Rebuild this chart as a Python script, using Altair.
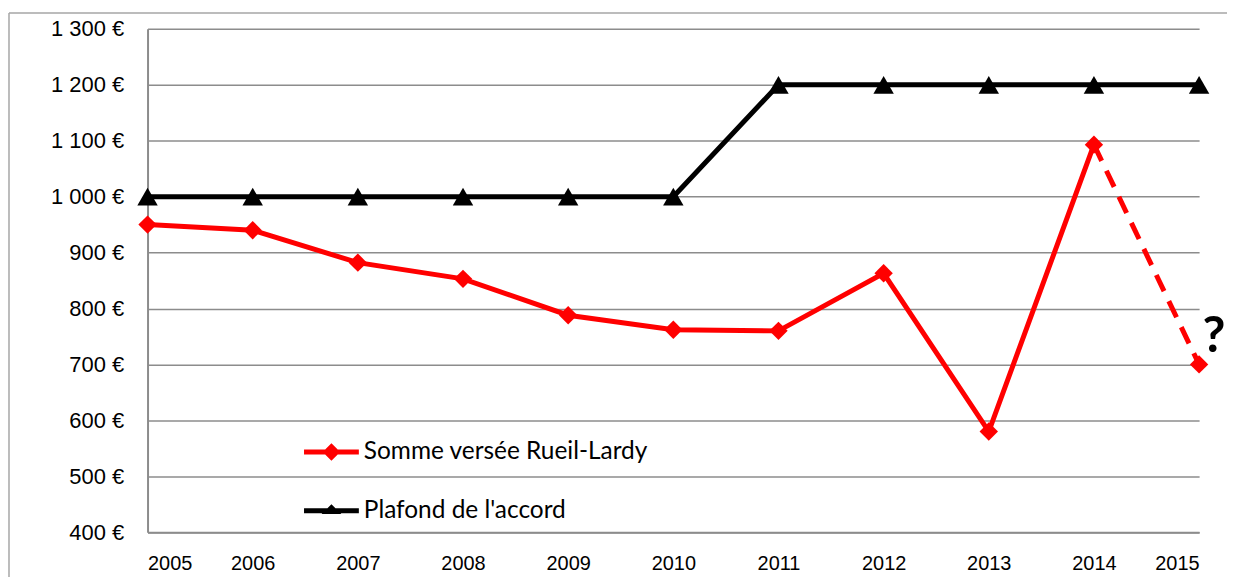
import altair as alt
import pandas as pd

years = [2005, 2006, 2007, 2008, 2009, 2010, 2011, 2012, 2013, 2014, 2015]
somme = [950, 940, 882, 853, 788, 762, 760, 863, 580, 1093, 700]
plafond = [1000, 1000, 1000, 1000, 1000, 1000, 1200, 1200, 1200, 1200, 1200]
series_names = ["Somme versée Rueil-Lardy", "Plafond de l'accord"]
series_colors = ["#FF0000", "#000000"]
y_ticks = [400, 500, 600, 700, 800, 900, 1000, 1100, 1200, 1300]
question = "?"

rows = []
for yr, s, p in zip(years, somme, plafond):
    rows.append({"year": yr, "value": s, "series": series_names[0]})
    rows.append({"year": yr, "value": p, "series": series_names[1]})
df = pd.DataFrame(rows)

S0 = series_names[0].replace("'", "\\'")
last_year = years[-1]
dash_start = years[-2]

legend_shape = (
    "datum.value == '" + S0 + "' ? "
    "'M-1,-0.09H1V0.09H-1Z M0,-0.32L0.32,0L0,0.32L-0.32,0Z' : "
    "'M-1,-0.09H1V0.09H-1Z M0,-0.24L0.36,0.12L-0.36,0.12Z'"
)
legend_fill = "datum.value == '" + S0 + "' ? '#FF0000' : '#000000'"

color = alt.Color(
    "series:N",
    scale=alt.Scale(domain=series_names, range=series_colors),
    legend=alt.Legend(
        orient="none",
        legendX=157,
        legendY=397,
        title=None,
        direction="vertical",
        labelFont="Lato",
        labelFontSize=24.5,
        labelColor="#000000",
        labelOffset=5,
        labelLimit=0,
        symbolSize=3025,
        symbolType=alt.ExprRef(expr=legend_shape),
        symbolFillColor=alt.ExprRef(expr=legend_fill),
        symbolStrokeWidth=0,
        symbolOpacity=1,
        rowPadding=20,
        padding=0,
    ),
)

x = alt.X(
    "year:Q",
    scale=alt.Scale(domain=[years[0], years[-1]], nice=False, zero=False),
    axis=alt.Axis(
        values=years,
        format="d",
        title=None,
        grid=False,
        ticks=False,
        labelFont="Liberation Sans",
        labelFontSize=20,
        labelPadding=21,
        labelColor="#000000",
        domainColor="#8c8c8c",
        domainWidth=2,
    ),
)
y = alt.Y(
    "value:Q",
    scale=alt.Scale(domain=[y_ticks[0], y_ticks[-1]], nice=False, zero=False),
    axis=alt.Axis(
        values=y_ticks,
        title=None,
        grid=True,
        gridColor="#8c8c8c",
        gridWidth=1.5,
        ticks=False,
        labelExpr="replace(format(datum.value, ','), ',', ' ') + ' €'",
        labelFont="Liberation Sans",
        labelFontSize=22,
        labelPadding=24,
        labelColor="#000000",
        domainColor="#8c8c8c",
        domainWidth=2,
    ),
)

base = alt.Chart(df).encode(x=x, y=y, color=color)

line_solid = base.transform_filter(
    f"datum.series != '{S0}' || datum.year <= {dash_start}"
).mark_line(strokeWidth=5)

line_dash = base.transform_filter(
    f"datum.series == '{S0}' && datum.year >= {dash_start}"
).mark_line(strokeWidth=5, strokeDash=[18, 11])

points = alt.Chart(df).transform_calculate(marker="datum.series").mark_point(
    filled=True, opacity=1
).encode(
    x=alt.X("year:Q"),
    y=alt.Y("value:Q"),
    fill=alt.Fill(
        "marker:N",
        scale=alt.Scale(domain=series_names, range=series_colors),
        legend=None,
    ),
    shape=alt.Shape(
        "marker:N",
        scale=alt.Scale(domain=series_names, range=["diamond", "triangle-up"]),
        legend=None,
    ),
    size=alt.Size(
        "marker:N",
        scale=alt.Scale(domain=series_names, range=[340, 420]),
        legend=None,
    ),
)

qmark = alt.Chart(df).transform_filter(
    f"datum.series == '{S0}' && datum.year == {last_year}"
).mark_text(
    text=question,
    dx=15,
    dy=-27,
    fontSize=50,
    fontWeight="bold",
    font="Lato",
    color="#000000",
).encode(x=alt.X("year:Q"), y=alt.Y("value:Q"))

one = pd.DataFrame({"a": [0]})
border_top = alt.Chart(one).mark_rule(stroke="#a6a6a6", strokeWidth=1.5).encode(
    x=alt.value(-139), x2=alt.value(1300), y=alt.value(-16)
)
border_left = alt.Chart(one).mark_rule(stroke="#a6a6a6", strokeWidth=1.5).encode(
    x=alt.value(-139), y=alt.value(-16), y2=alt.value(620)
)

chart = (
    alt.layer(border_top, border_left, line_solid, line_dash, points, qmark)
    .properties(
        width=1055,
        height=505,
        padding={"left": 140, "top": 20, "right": 28, "bottom": 44},
        autosize=alt.AutoSizeParams(type="none"),
        background="#ffffff",
    )
    .resolve_scale(fill="independent", shape="independent", size="independent")
    .configure_view(stroke=None)
)

chart.save("out.html", embed_options={"renderer": "svg", "actions": False})
